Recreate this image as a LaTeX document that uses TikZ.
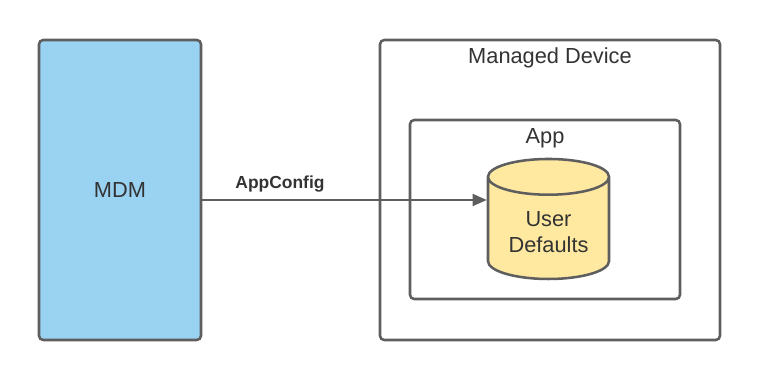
\documentclass[tikz,border=0pt]{standalone}
\usepackage{fontspec}
\setmainfont{Liberation Sans}
\usepackage{tikz}
\usetikzlibrary{positioning,arrows.meta,shapes.geometric}
\definecolor{edge}{HTML}{5E5E5E}
\definecolor{ink}{HTML}{333333}
\definecolor{mdmblue}{HTML}{9AD2F2}
\definecolor{dbyellow}{HTML}{FFE9A1}

\begin{document}
\begin{tikzpicture}[
  every node/.style={font=\fontsize{15.5}{19}\selectfont,text=ink},
  box/.style={draw=edge,line width=1.8pt,rounded corners=3pt,align=center},
  arrow/.style={-{Triangle[length=10pt,width=8.5pt]},draw=edge,line width=1.3pt}
]
  \useasboundingbox (0,0) rectangle (19,9.5);
  \node[box,fill=mdmblue,minimum width=4.05cm,minimum height=7.5cm] (mdm) at (3.0,4.75) {MDM};
  \node[box,fill=white,minimum width=8.5cm,minimum height=7.5cm] (dev) at (13.75,4.75) {};
  \node (devlbl) at (13.75,8.05) {Managed Device};
  \node[box,fill=white,minimum width=6.75cm,minimum height=4.475cm] (app) at (13.625,4.2625) {};
  \node (applbl) at (13.625,6.05) {App};
  \node[cylinder,shape border rotate=90,aspect=0.4,draw=edge,line width=1.8pt,fill=dbyellow,
        minimum width=3.025cm,minimum height=3.0cm,align=center] (ud) at (13.7125,3.7) {User\\Defaults};
  \coordinate (cfg) at (0,4.5);
  \draw[arrow] (mdm.east |- cfg) -- (ud.west |- cfg);
  \node[font=\fontsize{12.4}{15}\selectfont\bfseries] (cfglbl) at (7.0,4.9) {AppConfig};
\end{tikzpicture}
\end{document}
